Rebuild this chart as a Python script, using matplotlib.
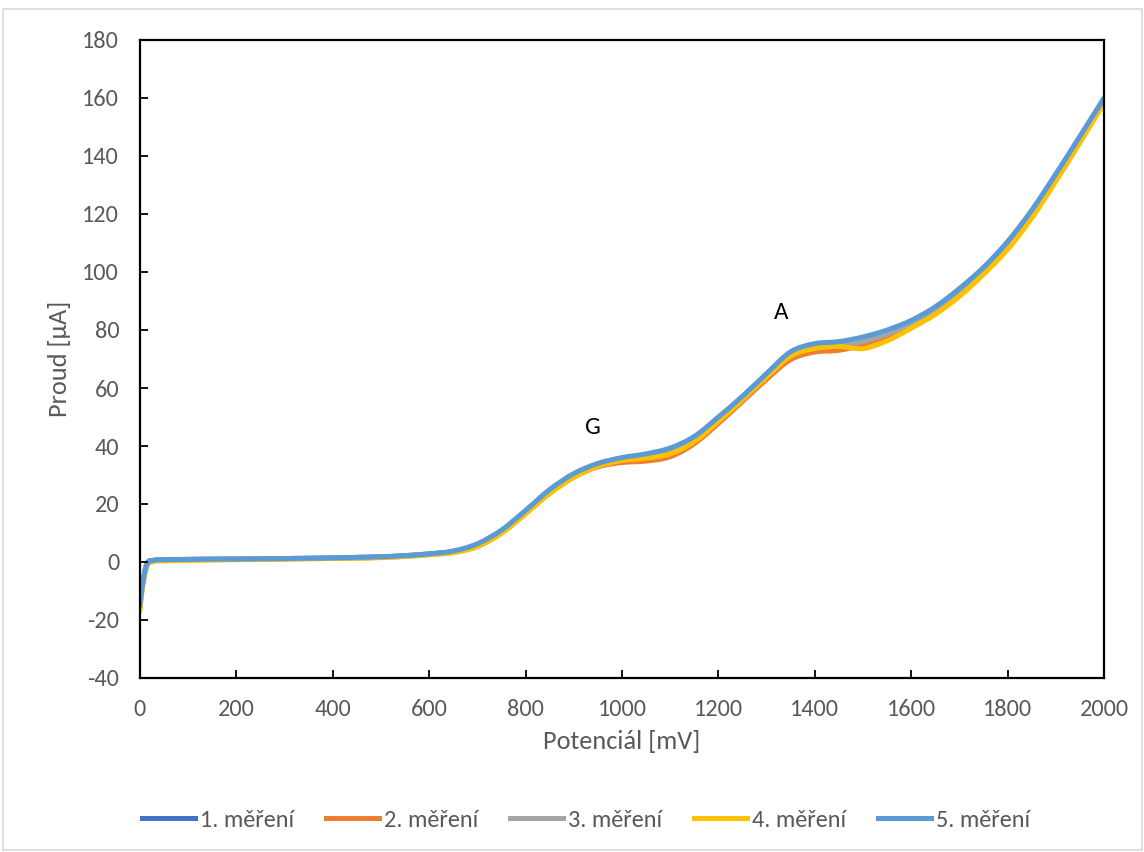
import matplotlib
matplotlib.use("Agg")
import matplotlib.pyplot as plt
from matplotlib.lines import Line2D
from matplotlib.patches import PathPatch, Rectangle
from matplotlib.path import Path

# potential sweep [mV] and current [uA] for five repeated measurements
potential = [0, 5, 15, 30, 50, 100, 150, 200, 250, 300, 350, 400, 450, 500,
             550, 600, 650, 700, 750, 800, 850, 900, 950, 1000, 1050, 1100,
             1150, 1200, 1250, 1300, 1350, 1400, 1450, 1500, 1550, 1600,
             1650, 1700, 1750, 1800, 1850, 1900, 1950, 2000]

mereni_1 = [-14.5, -7.5, -0.4, 0.6, 0.8, 0.9, 1.0, 1.0, 1.1, 1.2, 1.3, 1.4,
            1.6, 1.8, 2.2, 2.8, 3.7, 6.1, 10.8, 17.6, 24.6, 30.2, 33.8, 35.8,
            37.0, 39.0, 43.0, 49.6, 56.8, 64.6, 72.0, 74.8, 75.4, 76.6, 79.2,
            82.8, 87.5, 93.8, 101.2, 110.0, 120.8, 133.3, 146.4, 159.6]
mereni_2 = [-15.0, -8.0, -0.8, 0.4, 0.6, 0.7, 0.8, 0.9, 1.0, 1.1, 1.2, 1.3,
            1.4, 1.6, 2.0, 2.6, 3.4, 5.6, 10.2, 16.8, 23.8, 29.3, 32.8, 34.3,
            34.8, 36.3, 40.8, 47.8, 55.4, 63.0, 69.8, 72.4, 73.0, 75.0, 77.8,
            81.4, 86.2, 92.6, 100.0, 108.8, 119.6, 132.3, 145.4, 158.8]
mereni_3 = [-15.5, -8.0, -0.6, 0.5, 0.7, 0.8, 0.9, 1.0, 1.0, 1.1, 1.2, 1.3,
            1.5, 1.7, 2.1, 2.7, 3.6, 6.0, 10.6, 17.3, 24.3, 29.8, 33.5, 35.5,
            36.6, 38.5, 42.6, 49.2, 56.5, 64.3, 71.5, 74.3, 75.0, 76.0, 78.6,
            82.2, 86.8, 93.2, 100.6, 109.4, 120.1, 132.7, 145.8, 159.2]
mereni_4 = [-17.0, -9.0, -1.2, 0.2, 0.4, 0.6, 0.7, 0.8, 0.9, 1.0, 1.1, 1.2,
            1.3, 1.5, 1.9, 2.5, 3.2, 5.3, 9.9, 16.6, 23.6, 29.2, 33.0, 35.0,
            35.8, 37.3, 41.5, 48.5, 56.0, 63.8, 71.0, 73.6, 74.3, 73.6, 76.3,
            80.6, 85.4, 91.6, 99.2, 107.8, 118.6, 131.3, 144.6, 158.2]
mereni_5 = [-15.0, -8.0, -0.5, 0.6, 0.8, 0.9, 1.0, 1.0, 1.1, 1.2, 1.3, 1.4,
            1.6, 1.8, 2.2, 2.8, 3.8, 6.3, 11.0, 17.8, 25.0, 30.5, 34.0, 36.0,
            37.3, 39.3, 43.3, 50.0, 57.2, 65.0, 72.5, 75.3, 76.0, 77.6, 80.0,
            83.3, 88.0, 94.3, 101.6, 110.5, 121.3, 133.8, 146.8, 160.0]

series = [mereni_1, mereni_2, mereni_3, mereni_4, mereni_5]
labels = ["1. měření", "2. měření", "3. měření", "4. měření", "5. měření"]
colors = ["#4472C4", "#ED7D31", "#A5A5A5", "#FFC000", "#5B9BD5"]

# peak annotations (label, potential, current)
peaks = [("G", 940, 46.5), ("A", 1330, 86)]

LW = 3.6


def smooth_path(xs, ys, tension=1 / 6):
    """Cubic Bezier path through the points (Catmull-Rom style, like a
    spreadsheet 'smoothed line')."""
    verts = [(xs[0], ys[0])]
    codes = [Path.MOVETO]
    n = len(xs)
    for i in range(n - 1):
        x0, y0 = (xs[i - 1], ys[i - 1]) if i > 0 else (xs[i], ys[i])
        x1, y1 = xs[i], ys[i]
        x2, y2 = xs[i + 1], ys[i + 1]
        x3, y3 = (xs[i + 2], ys[i + 2]) if i + 2 < n else (x2, y2)
        c1 = (x1 + (x2 - x0) * tension, y1 + (y2 - y0) * tension)
        c2 = (x2 - (x3 - x1) * tension, y2 - (y3 - y1) * tension)
        verts += [c1, c2, (x2, y2)]
        codes += [Path.CURVE4] * 3
    return Path(verts, codes)


plt.rcParams["font.family"] = ["Carlito", "Lato", "DejaVu Sans"]
plt.rcParams["axes.unicode_minus"] = False

fig = plt.figure(figsize=(11.44, 8.52), dpi=100)
ax = fig.add_axes([140 / 1144, 1 - 678 / 852, 964 / 1144, 638 / 852])

for ys, col in zip(series, colors):
    ax.add_patch(PathPatch(smooth_path(potential, ys), facecolor="none",
                           edgecolor=col, lw=LW, capstyle="round",
                           joinstyle="round"))

for txt, px, py in peaks:
    ax.text(px, py, txt, fontsize=18, ha="center", va="center", color="black")

ax.set_xlim(0, 2000)
ax.set_ylim(-40, 180)
ax.set_xticks(range(0, 2001, 200))
ax.set_yticks(range(-40, 181, 20))
ax.tick_params(direction="in", length=6, width=1.3, labelsize=17.5,
               labelcolor="#595959", pad=15)
for sp in ax.spines.values():
    sp.set_linewidth(1.6)
    sp.set_color("black")

ax.set_xlabel("Potenciál [mV]", fontsize=19, color="#595959", labelpad=7)
ax.set_ylabel("Proud [μA]", fontsize=19, color="#595959", labelpad=8)

handles = [Line2D([], [], color=c, lw=LW) for c in colors]
leg = fig.legend(handles, labels, loc="center",
                 bbox_to_anchor=(586 / 1144, 1 - 820 / 852), ncol=5,
                 frameon=False, fontsize=17.5, handlelength=2.2,
                 columnspacing=1.3, handletextpad=0.2)
for t in leg.get_texts():
    t.set_color("#595959")

# light chart-area border
fig.patches.append(Rectangle((3 / 1144, 0.002), 1139 / 1144, 1 - 9 / 852 - 0.002,
                             transform=fig.transFigure, fill=False,
                             edgecolor="#D9D9D9", lw=1.2))

fig.savefig("out.png", dpi=100)
